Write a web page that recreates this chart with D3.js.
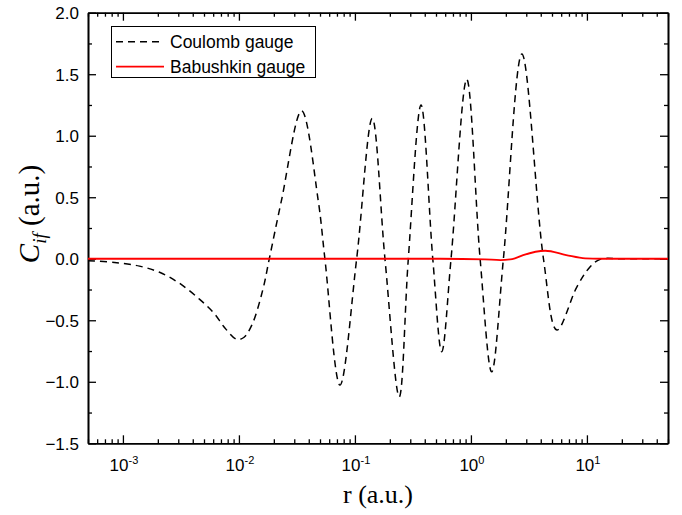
<!DOCTYPE html>
<html>
<head>
<meta charset="utf-8">
<script src="https://cdn.jsdelivr.net/npm/d3@7"></script>
<style>
  html, body { margin: 0; padding: 0; background: #fff; }
  svg { display: block; }
</style>
</head>
<body>
<svg id="chart" width="682" height="515"></svg>
<script>
// ---- data ----
const coulombR = [5e-4, 8.46e-4, 1.39e-3, 2.07e-3, 3.08e-3, 4.59e-3, 6.07e-3, 7.54e-3, 9.57e-3, 0.01101, 0.01291, 0.01604, 0.01828, 0.0233, 0.0347, 0.0482, 0.0551, 0.0743, 0.1035, 0.141, 0.1815, 0.241, 0.2886, 0.3715, 0.469, 0.56, 0.674, 0.92, 1.2, 1.51, 1.906, 2.75, 4.22, 5.51, 8.2, 10.67, 13.0, 20, 50];
const coulombC = [-0.016, -0.03, -0.06, -0.11, -0.2, -0.33, -0.44, -0.56, -0.655, -0.64, -0.54, -0.255, 0, 0.477, 1.203, 0.477, 0, -1.027, 0, 1.141, 0, -1.122, 0, 1.25, 0, -0.756, 0, 1.459, 0, -0.919, 0, 1.664, 0, -0.58, -0.228, -0.065, -0.005, 0, 0];

const babR = [5e-4, 0.542, 1.32, 1.79, 2.27, 2.82, 4.37, 6.63, 9.67, 13.0, 50];
const babC = [0, 0, -0.005, -0.011, -0.003, 0.03, 0.065, 0.03, 0.003, 0, 0];

const yTicks = [-1.5, -1.0, -0.5, 0.0, 0.5, 1.0, 1.5, 2.0];
const yMinorTicks = [-1.25, -0.75, -0.25, 0.25, 0.75, 1.25, 1.75];
const xDecades = [-3, -2, -1, 0, 1];
const seriesNames = ["Coulomb gauge", "Babushkin gauge"];

// ---- layout ----
const L = 88, R = 668, T = 12.7, B = 443.3;
const svg = d3.select("#chart");

const x = d3.scaleLog().domain([5e-4, 50]).range([L, R]);
const y = d3.scaleLinear().domain([-1.5, 2.0]).range([B, T]);

// minor x ticks
const xMinor = [];
for (let e = -4; e <= 1; e++) {
  for (let m = 2; m <= 9; m++) {
    const v = m * Math.pow(10, e);
    if (v >= 5e-4 && v <= 50) xMinor.push(v);
  }
}
const xMajor = xDecades.map(e => Math.pow(10, e));

function styleAxis(g) {
  g.select(".domain").attr("stroke", "#000").attr("stroke-width", 1.6);
  g.selectAll(".tick line").attr("stroke", "#000").attr("stroke-width", 1.3);
}

// bottom
svg.append("g").attr("transform", `translate(0,${B})`)
  .call(d3.axisBottom(x).tickValues(xMajor).tickSizeInner(-8).tickSizeOuter(0).tickFormat(""))
  .call(styleAxis);
svg.append("g").attr("transform", `translate(0,${B})`)
  .call(d3.axisBottom(x).tickValues(xMinor).tickSizeInner(-4).tickSizeOuter(0).tickFormat(""))
  .call(styleAxis);
// top
svg.append("g").attr("transform", `translate(0,${T})`)
  .call(d3.axisTop(x).tickValues(xMajor).tickSizeInner(-8).tickSizeOuter(0).tickFormat(""))
  .call(styleAxis);
svg.append("g").attr("transform", `translate(0,${T})`)
  .call(d3.axisTop(x).tickValues(xMinor).tickSizeInner(-4).tickSizeOuter(0).tickFormat(""))
  .call(styleAxis);
// left
svg.append("g").attr("transform", `translate(${L},0)`)
  .call(d3.axisLeft(y).tickValues(yTicks).tickSizeInner(-8).tickSizeOuter(0).tickPadding(9).tickFormat(d3.format(".1f")))
  .call(styleAxis)
  .call(g => g.selectAll("text").attr("font-family", "Liberation Sans, Arial, sans-serif").attr("font-size", 17).attr("fill", "#000").attr("dy", "0.36em"));
svg.append("g").attr("transform", `translate(${L},0)`)
  .call(d3.axisLeft(y).tickValues(yMinorTicks).tickSizeInner(-4).tickSizeOuter(0).tickFormat(""))
  .call(styleAxis);
// right
svg.append("g").attr("transform", `translate(${R},0)`)
  .call(d3.axisRight(y).tickValues(yTicks).tickSizeInner(-8).tickSizeOuter(0).tickFormat(""))
  .call(styleAxis);
svg.append("g").attr("transform", `translate(${R},0)`)
  .call(d3.axisRight(y).tickValues(yMinorTicks).tickSizeInner(-4).tickSizeOuter(0).tickFormat(""))
  .call(styleAxis);

// x tick labels with superscripts
const xl = svg.append("g").attr("font-family", "Liberation Sans, Arial, sans-serif").attr("fill", "#000");
xDecades.forEach(e => {
  const t = xl.append("text").attr("x", x(Math.pow(10, e)) + 1).attr("y", 471).attr("text-anchor", "middle").attr("font-size", 17);
  t.append("tspan").text("10");
  t.append("tspan").attr("font-size", 11).attr("dy", -7).text(String(e));
});

// lines
const clip = svg.append("clipPath").attr("id", "clip").append("rect")
  .attr("x", L).attr("y", T).attr("width", R - L).attr("height", B - T);

const lineC = d3.line().x(d => x(d[0])).y(d => y(d[1])).curve(d3.curveCatmullRom.alpha(0.5));
const lineB = d3.line().x(d => x(d[0])).y(d => y(d[1])).curve(d3.curveMonotoneX);

svg.append("path")
  .datum(coulombR.map((r, i) => [r, coulombC[i]]))
  .attr("d", lineC).attr("fill", "none").attr("stroke", "#000")
  .attr("stroke-width", 1.5).attr("stroke-dasharray", "7,5")
  .attr("clip-path", "url(#clip)");

svg.append("path")
  .datum(babR.map((r, i) => [r, babC[i]]))
  .attr("d", lineB).attr("fill", "none").attr("stroke", "#ff0000")
  .attr("stroke-width", 1.8)
  .attr("clip-path", "url(#clip)");

// legend
const lg = svg.append("g");
lg.append("rect").attr("x", 111.5).attr("y", 26.5).attr("width", 204).attr("height", 51)
  .attr("fill", "#fff").attr("stroke", "#000").attr("stroke-width", 1);
const legendRows = [
  { name: seriesNames[0], stroke: "#000", dash: "7,5", w: 1.5 },
  { name: seriesNames[1], stroke: "#ff0000", dash: null, w: 1.8 }
];
legendRows.forEach((d, i) => {
  const yy = 41.7 + i * 25;
  lg.append("line").attr("x1", 116).attr("x2", 164).attr("y1", yy).attr("y2", yy)
    .attr("stroke", d.stroke).attr("stroke-width", d.w).attr("stroke-dasharray", d.dash);
  lg.append("text").attr("x", 170).attr("y", yy).attr("dy", "0.36em")
    .attr("font-family", "Liberation Sans, Arial, sans-serif").attr("font-size", 17.5)
    .attr("fill", "#000").text(d.name);
});

// axis titles
svg.append("text").attr("x", (L + R) / 2).attr("y", 503).attr("text-anchor", "middle")
  .attr("font-family", "Liberation Serif, Times New Roman, serif").attr("font-size", 26)
  .attr("fill", "#000").text("r (a.u.)");

const yt = svg.append("text").attr("transform", "translate(39,214) rotate(-90)")
  .attr("text-anchor", "middle")
  .attr("font-family", "Liberation Serif, Times New Roman, serif").attr("font-size", 29).attr("fill", "#000");
yt.append("tspan").attr("font-style", "italic").text("C");
yt.append("tspan").attr("font-style", "italic").attr("font-size", 19).attr("dy", 7).text("if");
yt.append("tspan").attr("dy", -7).text(" (a.u.)");
</script>
</body>
</html>
